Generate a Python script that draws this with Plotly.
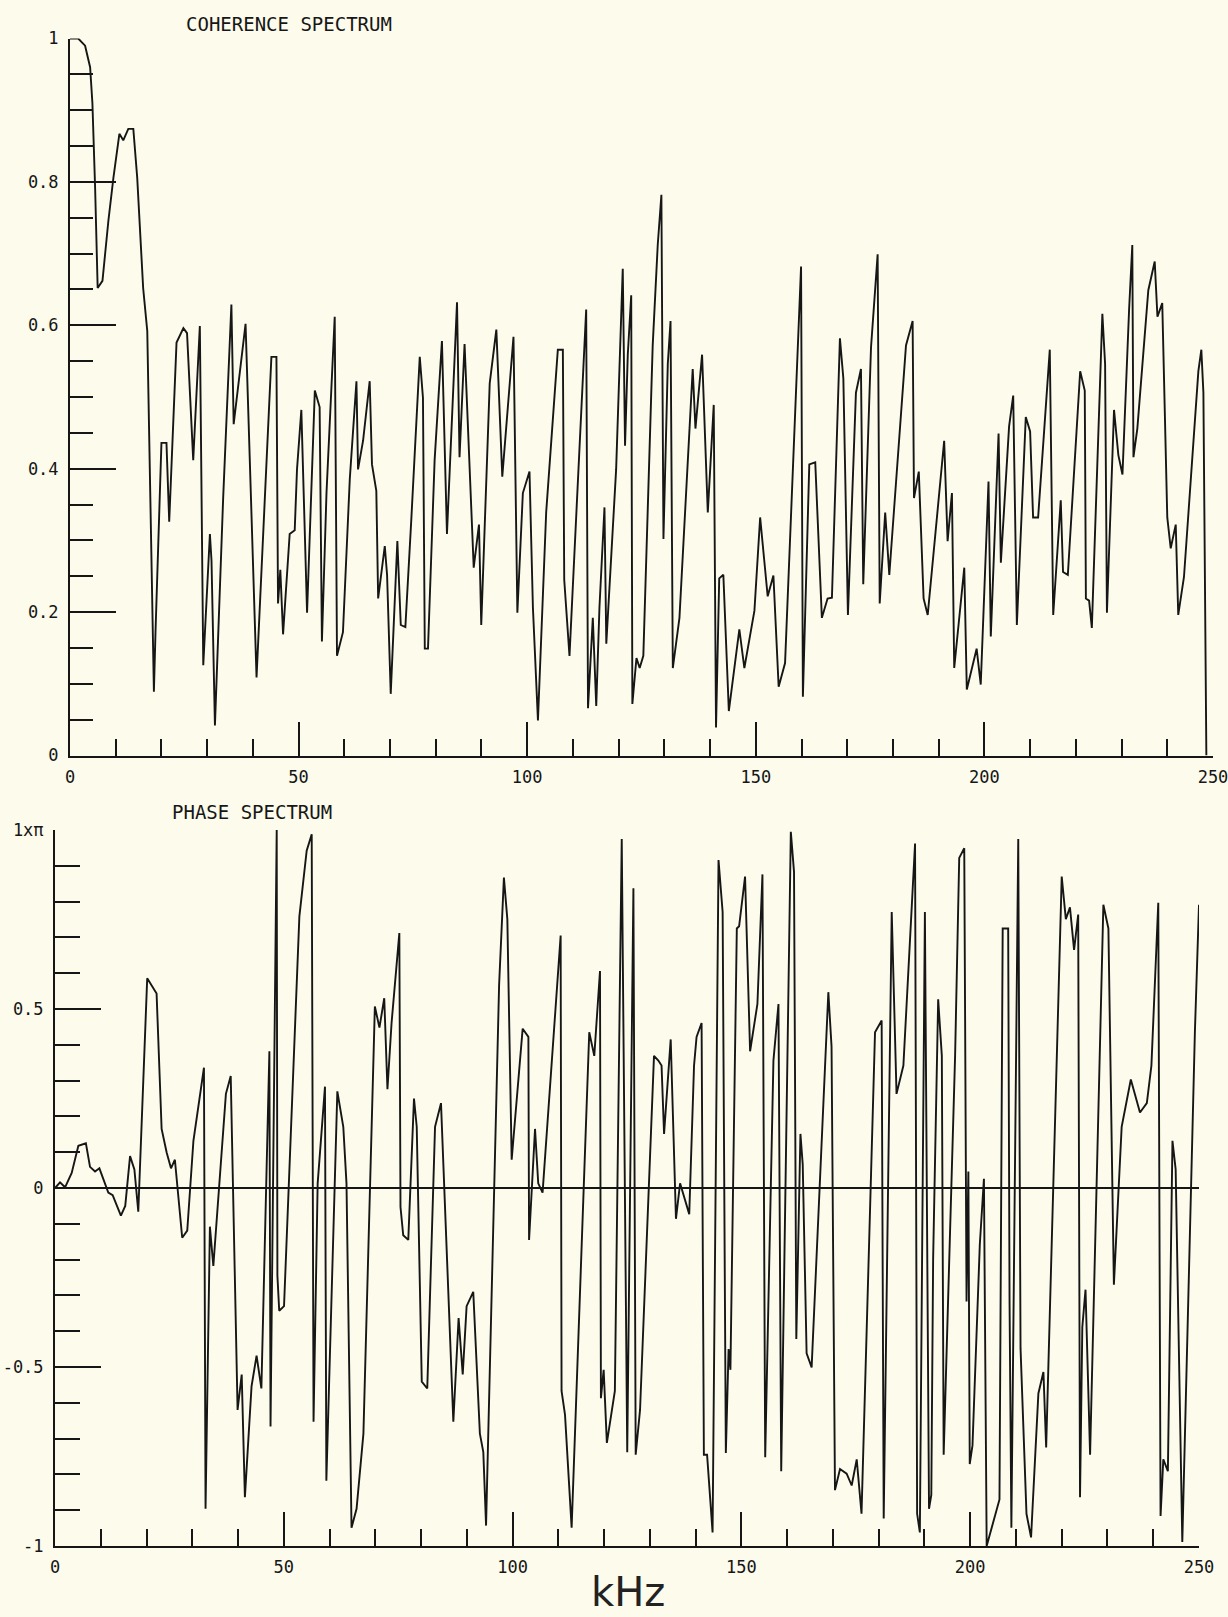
import plotly.graph_objects as go

# ---------------- data ----------------
coh_khz = [0.0, 1.8, 3.3, 4.4, 4.9, 5.2, 5.5, 5.7, 5.8, 6.05, 7.1, 8.4, 9.5, 10.8, 11.65, 12.75, 13.85, 14.7, 16.0, 16.9,
           18.35, 18.7, 20.0, 21.1, 21.7, 23.3, 24.8, 25.6, 26.95, 28.4, 29.15, 30.6, 30.95, 31.7, 33.5, 35.3, 35.8, 38.4,
           40.8, 44.05, 45.15, 45.5, 46.0, 46.6, 48.05, 49.15, 49.65, 50.6, 51.85, 53.55, 54.6, 55.1, 56.1, 57.9, 58.4,
           59.7, 61.2, 62.65, 63.0, 64.1, 65.55, 66.05, 67.0, 67.4, 68.85, 69.35, 70.15, 71.6, 72.35, 73.35, 74.65, 76.5,
           77.2, 77.6, 78.3, 79.75, 81.35, 82.45, 84.65, 85.2, 86.3, 88.3, 89.45, 89.95, 91.8, 93.25, 94.55, 97.0, 97.85,
           99.05, 100.5, 101.25, 102.35, 104.15, 106.7, 107.8, 108.1, 109.25, 112.9, 113.3, 114.35, 115.1, 115.8, 116.9,
           117.3, 119.45, 120.9, 121.4, 122.0, 122.75, 123.0, 123.9, 124.6, 125.4, 127.45, 128.55, 129.35, 129.8, 130.75,
           131.35, 131.85, 133.3, 136.2, 136.8, 138.25, 139.5, 140.8, 141.3, 142.0, 142.9, 144.1, 146.4, 147.5, 149.7,
           150.95, 152.6, 153.85, 155.0, 156.4, 159.9, 160.3, 161.7, 163.0, 164.45, 165.7, 166.65, 168.4, 169.15, 170.15,
           171.9, 173.0, 173.5, 175.2, 176.65, 177.1, 178.3, 179.2, 182.85, 184.3, 184.6, 185.65, 186.7, 187.6, 191.2,
           191.95, 192.9, 193.4, 195.6, 196.15, 198.3, 199.2, 200.9, 201.4, 203.1, 203.6, 205.4, 206.3, 207.1, 209.05,
           210.0, 210.65, 211.75, 214.3, 215.05, 216.7, 217.2, 218.25, 220.95, 221.95, 222.2, 222.9, 223.5, 225.8, 226.4,
           226.8, 228.35, 229.3, 230.2, 231.65, 232.35, 232.6, 233.45, 235.85, 237.25, 237.85, 238.9, 240.0, 240.75,
           241.85, 242.4, 243.65, 246.8, 247.45, 247.9, 248.55]
coh_val = [1.0, 1.0, 0.99, 0.96, 0.91, 0.86, 0.79, 0.74, 0.71, 0.652, 0.662, 0.746, 0.806, 0.867, 0.858, 0.874, 0.874,
           0.806, 0.652, 0.592, 0.089, 0.172, 0.436, 0.436, 0.326, 0.576, 0.596, 0.589, 0.412, 0.599, 0.126, 0.309, 0.272,
           0.042, 0.359, 0.629, 0.462, 0.602, 0.109, 0.556, 0.556, 0.212, 0.259, 0.169, 0.309, 0.314, 0.399, 0.482, 0.199,
           0.509, 0.486, 0.159, 0.366, 0.612, 0.139, 0.172, 0.386, 0.522, 0.399, 0.439, 0.522, 0.406, 0.369, 0.219, 0.292,
           0.252, 0.086, 0.299, 0.182, 0.179, 0.329, 0.556, 0.499, 0.149, 0.149, 0.412, 0.578, 0.309, 0.632, 0.416, 0.574,
           0.262, 0.322, 0.182, 0.519, 0.594, 0.389, 0.584, 0.199, 0.366, 0.396, 0.206, 0.049, 0.339, 0.566, 0.566, 0.245,
           0.139, 0.622, 0.066, 0.192, 0.069, 0.206, 0.346, 0.156, 0.399, 0.679, 0.432, 0.559, 0.642, 0.072, 0.136, 0.122,
           0.139, 0.572, 0.712, 0.782, 0.302, 0.546, 0.606, 0.122, 0.192, 0.539, 0.456, 0.559, 0.339, 0.489, 0.039, 0.247,
           0.252, 0.062, 0.176, 0.122, 0.202, 0.332, 0.222, 0.251, 0.096, 0.129, 0.682, 0.082, 0.406, 0.409, 0.192, 0.219,
           0.220, 0.582, 0.526, 0.196, 0.506, 0.539, 0.239, 0.569, 0.699, 0.212, 0.339, 0.252, 0.572, 0.606, 0.359, 0.396,
           0.219, 0.196, 0.439, 0.299, 0.366, 0.122, 0.262, 0.092, 0.149, 0.099, 0.382, 0.166, 0.449, 0.269, 0.459, 0.502,
           0.182, 0.472, 0.452, 0.332, 0.332, 0.566, 0.196, 0.356, 0.256, 0.252, 0.536, 0.509, 0.219, 0.216, 0.178, 0.616,
           0.546, 0.199, 0.482, 0.419, 0.392, 0.622, 0.712, 0.416, 0.456, 0.649, 0.689, 0.612, 0.631, 0.332, 0.289, 0.322,
           0.196, 0.249, 0.536, 0.566, 0.506, 0.0]

phase_khz = [0.0, 1.1, 2.2, 3.65, 5.1, 6.75, 7.65, 8.75, 9.7, 10.55, 11.65, 12.6, 13.35, 14.4, 15.35, 16.4, 17.35, 18.2,
             20.15, 22.2, 23.3, 24.4, 25.35, 26.2, 27.8, 28.9, 30.25, 32.55, 32.9, 33.85, 34.6, 37.35, 38.4, 39.9, 40.8,
             41.5, 42.95, 44.05, 45.1, 46.85, 47.1, 48.45, 48.6, 49.0, 50.05, 53.4, 55.0, 56.1, 56.5, 57.4, 59.0, 59.3,
             61.7, 63.0, 63.7, 64.8, 65.9, 67.4, 69.9, 70.9, 71.95, 72.65, 73.55, 75.25, 75.5, 76.1, 77.2, 78.45, 79.05,
             80.15, 81.35, 83.05, 84.35, 87.05, 88.2, 89.1, 89.95, 91.4, 92.85, 93.6, 94.2, 97.05, 98.1, 98.85, 99.8,
             102.2, 103.45, 103.6, 104.9, 105.6, 106.55, 110.5, 110.7, 111.45, 112.9, 116.75, 117.85, 119.1, 119.3, 119.9,
             120.6, 122.35, 123.85, 125.05, 126.4, 126.9, 127.85, 130.9, 131.85, 132.55, 133.1, 134.55, 135.7, 136.6,
             138.6, 139.65, 140.2, 141.3, 141.8, 142.5, 143.7, 145.0, 145.9, 146.6, 147.2, 147.6, 149.0, 149.5, 150.8,
             151.9, 153.5, 154.6, 155.2, 157.0, 158.1, 158.7, 160.8, 161.5, 162.0, 162.9, 163.4, 164.25, 165.35, 169.0,
             169.7, 170.45, 171.55, 173.0, 174.1, 175.2, 176.25, 179.2, 180.65, 181.1, 182.85, 183.9, 185.4, 187.95,
             188.4, 189.0, 190.1, 191.0, 191.5, 191.9, 193.0, 193.8, 194.2, 196.7, 197.6, 198.7, 199.2, 199.6, 199.9,
             200.5, 202.1, 203.0, 203.6, 206.4, 207.1, 208.3, 208.6, 209.0, 210.5, 211.0, 212.3, 213.3, 214.9, 216.0,
             216.6, 220.0, 220.9, 221.8, 222.7, 223.6, 224.0, 224.5, 225.2, 226.2, 229.1, 230.2, 231.4, 233.1, 235.1,
             237.1, 238.6, 239.6, 241.1, 241.6, 242.2, 243.2, 244.2, 244.9, 246.35, 249.1, 250.0]
phase_val = [0.0, 0.016, 0.002, 0.042, 0.118, 0.125, 0.059, 0.046, 0.055, 0.026, -0.013, -0.020, -0.046, -0.077, -0.050,
             0.089, 0.052, -0.066, 0.586, 0.543, 0.165, 0.099, 0.055, 0.079, -0.139, -0.119, 0.132, 0.336, -0.896, -0.108,
             -0.218, 0.263, 0.313, -0.620, -0.521, -0.864, -0.554, -0.468, -0.560, 0.382, -0.666, 1.0, -0.244, -0.343,
             -0.330, 0.758, 0.942, 0.988, -0.653, 0.013, 0.283, -0.818, 0.270, 0.171, 0.013, -0.949, -0.896, -0.686,
             0.507, 0.448, 0.530, 0.276, 0.461, 0.712, -0.053, -0.132, -0.145, 0.250, 0.171, -0.541, -0.560, 0.171,
             0.237, -0.653, -0.363, -0.521, -0.330, -0.290, -0.686, -0.738, -0.943, 0.567, 0.867, 0.751, 0.079, 0.445,
             0.422, -0.145, 0.165, 0.013, -0.013, 0.705, -0.567, -0.633, -0.949, 0.435, 0.369, 0.606, -0.587, -0.508,
             -0.712, -0.567, 0.975, -0.738, 0.837, -0.745, -0.620, 0.369, 0.356, 0.342, 0.151, 0.415, -0.086, 0.013,
             -0.073, 0.342, 0.422, 0.461, -0.745, -0.745, -0.962, 0.916, 0.771, -0.740, -0.450, -0.508, 0.725, 0.731,
             0.870, 0.382, 0.514, 0.876, -0.752, 0.356, 0.514, -0.791, 0.995, 0.883, -0.422, 0.151, 0.066, -0.462,
             -0.501, 0.547, 0.395, -0.844, -0.785, -0.798, -0.831, -0.758, -0.910, 0.435, 0.468, -0.923, 0.771, 0.263,
             0.342, 0.962, -0.910, -0.962, 0.771, -0.896, -0.857, -0.198, 0.527, 0.369, -0.745, 0.369, 0.922, 0.949,
             -0.317, 0.046, -0.771, -0.719, -0.158, 0.026, -1.0, -0.870, 0.725, 0.725, -0.317, -0.949, 0.975, -0.448,
             -0.910, -0.976, -0.574, -0.514, -0.725, 0.870, 0.751, 0.784, 0.665, 0.764, -0.864, -0.389, -0.284, -0.745,
             0.791, 0.725, -0.270, 0.171, 0.303, 0.211, 0.237, 0.342, 0.797, -0.916, -0.758, -0.791, 0.132, 0.052,
             -0.989, 0.435, 0.791]

x_ticks = [0, 50, 100, 150, 200, 250]
x_tick_text = ["0", "50", "100", "150", "200", "250"]
coh_ticks = [0, 0.2, 0.4, 0.6, 0.8, 1.0]
coh_tick_text = ["0", "0.2", "0.4", "0.6", "0.8", "1"]
phase_ticks = [-1, -0.5, 0, 0.5, 1]
phase_tick_text = ["-1", "-0.5", "0", "0.5", "1xπ"]

# ---------------- style ----------------
INK = "#161616"
PAPER = "#fcfbec"
MONO = "DejaVu Sans Mono"
W, H = 1228, 1617

fig = go.Figure()
fig.add_trace(go.Scatter(x=coh_khz, y=coh_val, mode="lines", xaxis="x", yaxis="y",
                         line=dict(color=INK, width=1.9), cliponaxis=False, hoverinfo="skip"))
fig.add_trace(go.Scatter(x=phase_khz, y=phase_val, mode="lines", xaxis="x2", yaxis="y2",
                         line=dict(color=INK, width=1.9), cliponaxis=False, hoverinfo="skip"))

def xaxis(domain, anchor):
    return dict(domain=domain, anchor=anchor, range=[0, 250], showgrid=False, zeroline=False,
                showline=True, linecolor=INK, linewidth=2, mirror=False, automargin=False,
                ticks="inside", ticklen=34, tickwidth=2, tickcolor=INK,
                tickvals=x_ticks, ticktext=x_tick_text, ticklabelstandoff=5, ticklabeloverflow="allow",
                tickfont=dict(family=MONO, size=17, color=INK),
                minor=dict(dtick=10, tick0=0, ticks="inside", ticklen=17, tickwidth=2, tickcolor=INK, showgrid=False))

fig.update_layout(
    width=W, height=H, autosize=False,
    margin=dict(l=0, r=0, t=0, b=0, pad=0, autoexpand=False),
    paper_bgcolor=PAPER, plot_bgcolor=PAPER, showlegend=False,
    xaxis=xaxis([70 / W, 1213 / W], "y"),
    xaxis2=xaxis([55 / W, 1199 / W], "y2"),
    yaxis=dict(domain=[1 - 755.5 / H, 1 - 38.5 / H], anchor="x", range=[0, 1], showgrid=False, zeroline=False,
               showline=True, linecolor=INK, linewidth=2, automargin=False,
               ticks="inside", ticklen=46, tickwidth=2, tickcolor=INK,
               tickvals=coh_ticks, ticktext=coh_tick_text, ticklabelstandoff=6, ticklabeloverflow="allow",
               tickfont=dict(family=MONO, size=17, color=INK),
               minor=dict(dtick=0.05, tick0=0, ticks="inside", ticklen=23, tickwidth=2, tickcolor=INK, showgrid=False)),
    yaxis2=dict(domain=[1 - 1546 / H, 1 - 830 / H], anchor="x2", range=[-1, 1], showgrid=False,
                zeroline=True, zerolinecolor=INK, zerolinewidth=1.5,
                showline=True, linecolor=INK, linewidth=2, automargin=False,
                ticks="inside", ticklen=46, tickwidth=2, tickcolor=INK,
                tickvals=phase_ticks, ticktext=phase_tick_text, ticklabelstandoff=6, ticklabeloverflow="allow",
                tickfont=dict(family=MONO, size=17, color=INK),
                minor=dict(dtick=0.1, tick0=0, ticks="inside", ticklen=25, tickwidth=2, tickcolor=INK, showgrid=False)),
    annotations=[
        dict(text="COHERENCE SPECTRUM", x=289 / W, y=1 - 24 / H, xref="paper", yref="paper",
             xanchor="center", yanchor="middle", showarrow=False, font=dict(family=MONO, size=19, color=INK)),
        dict(text="PHASE SPECTRUM", x=252 / W, y=1 - 812 / H, xref="paper", yref="paper",
             xanchor="center", yanchor="middle", showarrow=False, font=dict(family=MONO, size=19, color=INK)),
        dict(text="kHz", x=628 / W, y=0, xref="paper", yref="paper",
             xanchor="center", yanchor="bottom", showarrow=False,
             font=dict(family="DejaVu Sans", size=40, color="#222222")),
    ],
)

fig.write_html(
    "out.html",
    post_script="document.body.style.margin='0px';document.body.style.padding='0px';",
)
